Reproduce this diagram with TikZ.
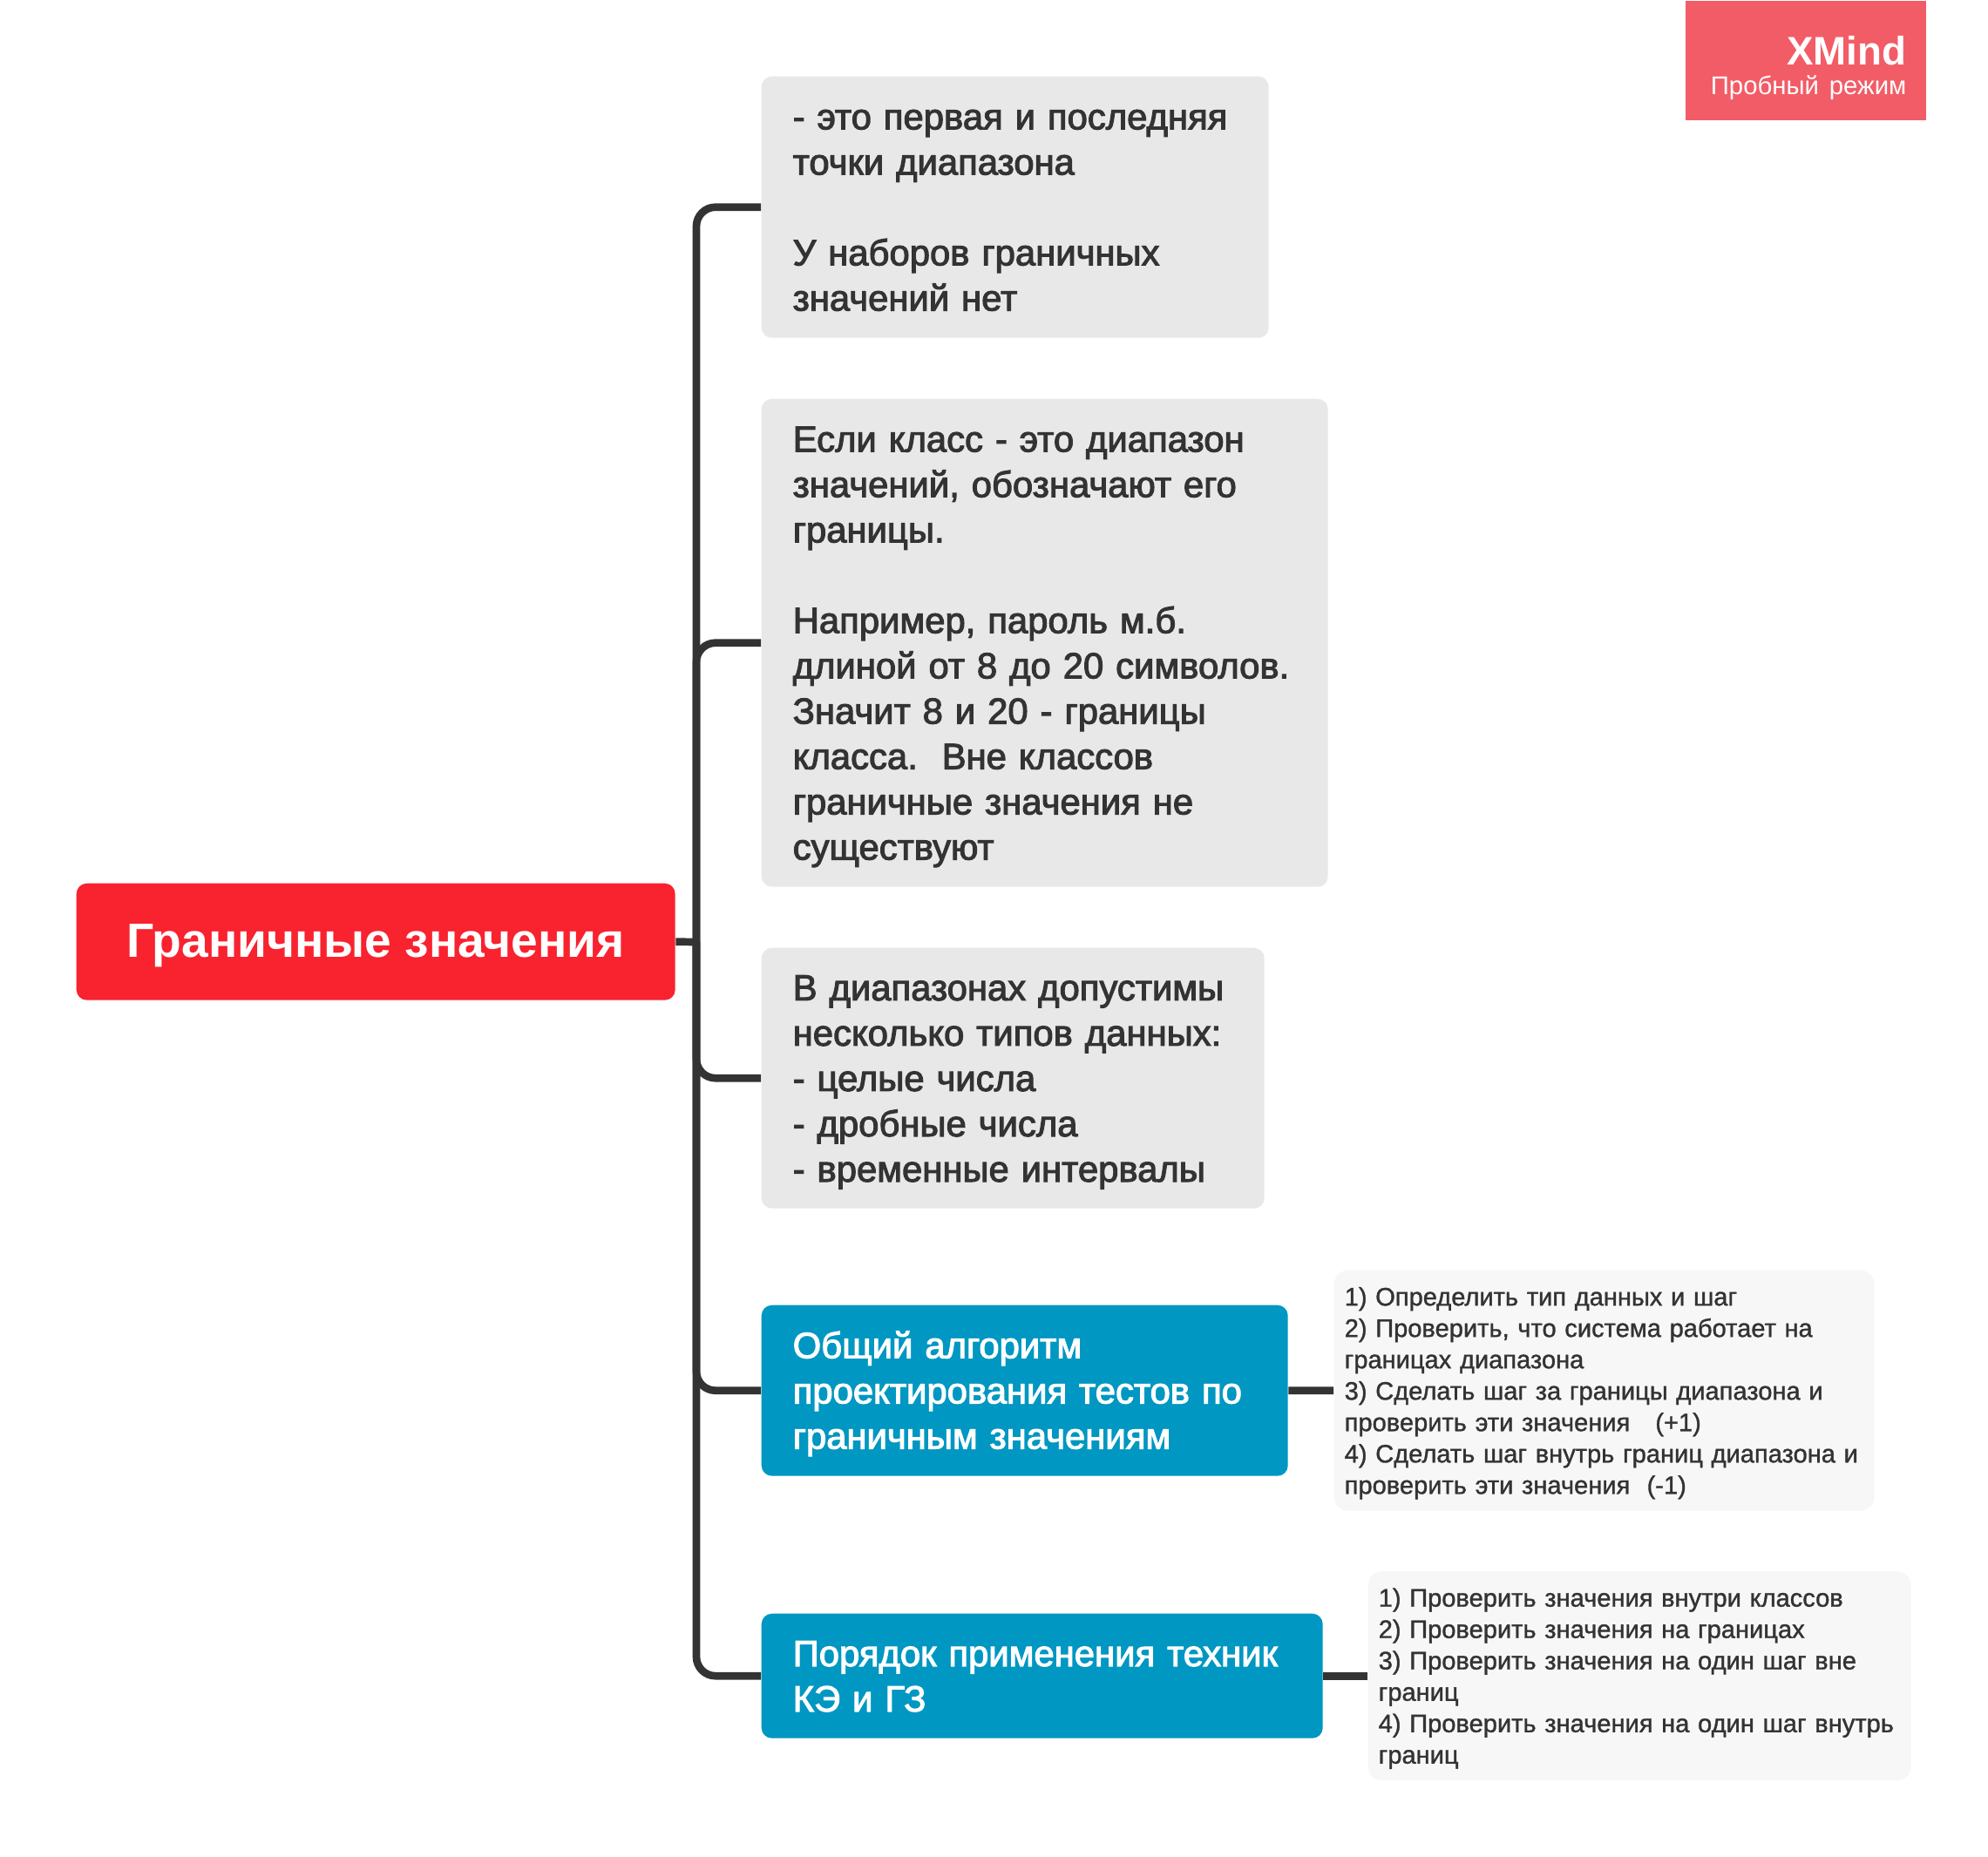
\documentclass[tikz,border=0pt]{standalone}
\usepackage{fontspec}
\setmainfont{Liberation Sans}
\newfontfamily\medfont{Liberation Sans}[FakeBold=2.5]
\newfontfamily\notefont{Liberation Sans}[FakeBold=1.2]
\definecolor{rootred}{HTML}{F9222F}
\definecolor{topicblue}{HTML}{0097C2}
\definecolor{topicgray}{HTML}{E8E8E8}
\definecolor{notegray}{HTML}{F7F7F7}
\definecolor{inkgray}{HTML}{333333}
\definecolor{badgered}{HTML}{F25C66}
\tikzset{
    topicbox/.style={anchor=north west,rounded corners=0.12cm,inner xsep=0.36cm,inner ysep=0pt,align=left,
        execute at begin node=\rule{0pt}{11pt},execute at end node=\rule[-2.6pt]{0pt}{2.6pt},
        font=\medfont\fontsize{11.9}{14.8}\selectfont},
    graybox/.style={topicbox,fill=topicgray,text=inkgray},
    bluebox/.style={topicbox,fill=topicblue,text=white},
    notebox/.style={anchor=north west,rounded corners=0.16cm,fill=notegray,text=inkgray,inner xsep=0.12cm,inner ysep=0pt,
        align=left,execute at begin node=\rule{0pt}{7.7pt},font=\notefont\fontsize{8.27}{10.25}\selectfont},
    rootbox/.style={anchor=north west,rounded corners=0.12cm,fill=rootred,text=white,align=center,
        execute at begin node=\rule{0pt}{13.5pt},font=\fontsize{15.7}{18}\selectfont\bfseries},
    badgebox/.style={anchor=north east,fill=badgered,text=white,align=right,inner xsep=0.23cm,inner ysep=0pt},
    branch/.style={draw=inkgray,line width=0.087cm,rounded corners=0.22cm},
}
\begin{document}
\begin{tikzpicture}
    \useasboundingbox (0,0) rectangle (22.81,-21.31);
    \node[rootbox,minimum width=6.87cm,minimum height=1.34cm] (root) at (0.87,-10.13) {Граничные значения};
    \node[graybox,text width=5.1cm,minimum height=3cm] (range) at (8.73,-0.87)
        {- это первая и последняя\\точки диапазона\\~\\У наборов граничных\\значений нет};
    \node[graybox,text width=5.78cm,minimum height=5.6cm] (limits) at (8.73,-4.57)
        {Если класс - это диапазон\\значений, обозначают его\\границы.\\~\\Например, пароль м.б.\\длиной от 8 до 20 символов.\\Значит 8 и 20 - границы\\класса.\ \ Вне классов\\граничные значения не\\существуют};
    \node[graybox,text width=5.05cm,minimum height=2.99cm] (types) at (8.73,-10.87)
        {В диапазонах допустимы\\несколько типов данных:\\- целые числа\\- дробные числа\\- временные интервалы};
    \node[bluebox,text width=5.32cm,minimum height=1.96cm] (steps) at (8.73,-14.97)
        {Общий алгоритм\\проектирования тестов по\\граничным значениям};
    \node[bluebox,text width=5.72cm,minimum height=1.43cm] (order) at (8.73,-18.51)
        {Порядок применения техник\\КЭ и ГЗ};
    \node[notebox,text width=5.96cm,minimum height=2.76cm] (stepsnote) at (15.3,-14.57)
        {1) Определить тип данных и шаг\\2) Проверить, что система работает на\\границах диапазона\\3) Сделать шаг за границы диапазона и\\проверить эти значения \ \ (+1)\\4) Сделать шаг внутрь границ диапазона и\\проверить эти значения \ (-1)};
    \node[notebox,text width=5.99cm,minimum height=2.4cm] (ordernote) at (15.69,-18.025)
        {1) Проверить значения внутри классов\\2) Проверить значения на границах\\3) Проверить значения на один шаг вне\\границ\\4) Проверить значения на один шаг внутрь\\границ};
    \node[badgebox,text width=2.3cm,minimum height=1.37cm] (badge) at (22.11,0)
        {\rule{0pt}{14.5pt}\fontsize{13}{13}\selectfont\bfseries XMind\\[-2.2pt]\normalfont\fontsize{8.35}{10}\selectfont Пробный режим};
    \coordinate (trunk) at (7.99,-10.81);
    \draw[branch] (root.east) -- (trunk);
    \draw[branch] (trunk) |- (range.west);
    \draw[branch] (trunk) |- (limits.west);
    \draw[branch] (trunk) |- (types.west);
    \draw[branch] (trunk) |- (steps.west);
    \draw[branch] (trunk) |- (order.west);
    \draw[branch] (steps.east) -- (stepsnote.west);
    \draw[branch] (order.east) -- (ordernote.west);
\end{tikzpicture}
\end{document}
